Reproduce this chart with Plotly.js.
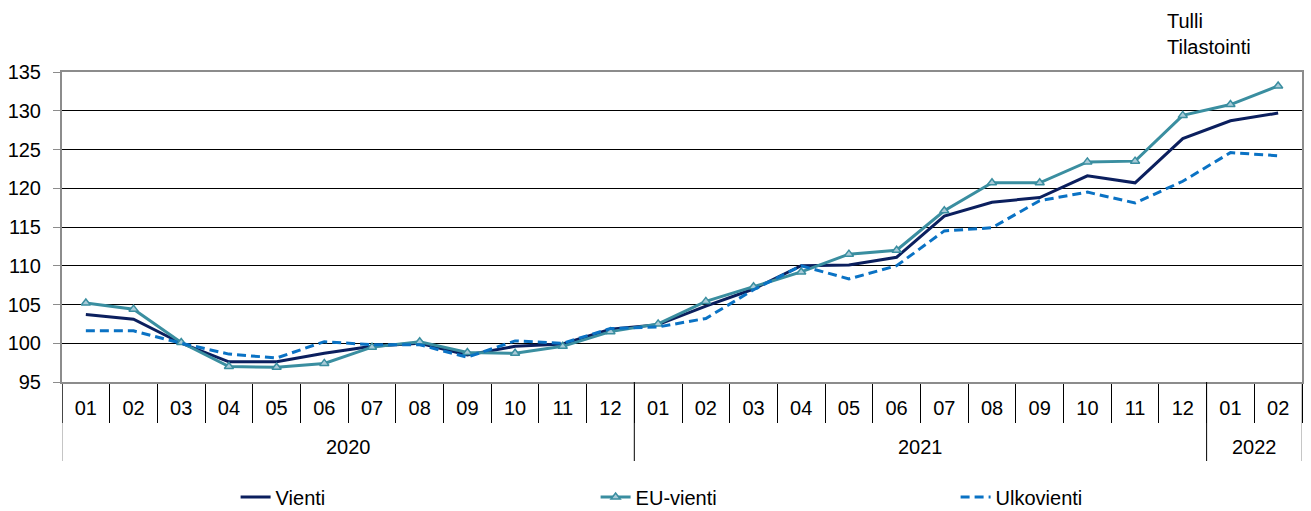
<!DOCTYPE html>
<html>
<head>
<meta charset="utf-8">
<script src="https://cdn.plot.ly/plotly-3.0.1.min.js"></script>
<style>html,body{margin:0;padding:0;background:#fff;}#chart{width:1311px;height:511px;}</style>
</head>
<body>
<div id="chart"></div>
<script>
const years = ['2020','2020','2020','2020','2020','2020','2020','2020','2020','2020','2020','2020',
               '2021','2021','2021','2021','2021','2021','2021','2021','2021','2021','2021','2021',
               '2022','2022'];
const months = ['01','02','03','04','05','06','07','08','09','10','11','12',
                '01','02','03','04','05','06','07','08','09','10','11','12',
                '01','02'];
const vienti = [103.7,103.1,100.0,97.6,97.6,98.7,99.6,100.0,98.5,99.6,99.9,101.8,
                102.4,104.8,107.0,110.0,110.1,111.1,116.4,118.2,118.8,121.6,120.7,126.4,
                128.7,129.7];
const euVienti = [105.2,104.4,100.1,97.0,96.9,97.4,99.5,100.2,98.8,98.7,99.6,101.5,
                  102.5,105.4,107.3,109.2,111.5,112.0,117.1,120.7,120.7,123.4,123.5,129.4,
                  130.8,133.2];
const ulkovienti = [101.6,101.6,100.0,98.6,98.1,100.2,99.8,99.8,98.2,100.3,100.0,101.9,
                    102.1,103.2,106.9,110.0,108.3,110.0,114.5,114.9,118.4,119.5,118.1,120.9,
                    124.6,124.2];
const seriesNames = ['Vienti','EU-vienti','Ulkovienti'];
const sourceText = 'Tulli<br>Tilastointi';

// category index positions on the x axis
const idx = months.map((m, i) => i);

// year groups derived from the years array
const groups = [];
years.forEach((y, i) => {
  if (!groups.length || groups[groups.length - 1].year !== y) groups.push({year: y, start: i, end: i});
  else groups[groups.length - 1].end = i;
});

const font = {family: 'Liberation Sans, Arial, sans-serif', size: 20, color: '#000'};

const traces = [
  {x: idx, y: vienti, name: seriesNames[0], type: 'scatter', mode: 'lines',
   line: {color: '#0b1f5e', width: 3}},
  {x: idx, y: euVienti, name: seriesNames[1], type: 'scatter', mode: 'lines+markers',
   line: {color: '#3a8ea0', width: 3},
   marker: {symbol: 'triangle-up', size: 8, color: '#a9cbd8', line: {color: '#3a8ea0', width: 1.5}}},
  {x: idx, y: ulkovienti, name: seriesNames[2], type: 'scatter', mode: 'lines',
   line: {color: '#0a72c4', width: 3, dash: '9px,5px'}}
];

const plotH = 511 - 72 - 129;
const px = p => p / plotH; // pixel offset to paper fraction

const shapes = [];
const annotations = [];
groups.forEach((g, k) => {
  shapes.push({type: 'line', xref: 'x', yref: 'paper', x0: g.start - 0.5, x1: g.start - 0.5,
               y0: 0, y1: -px(79), line: {color: k === 0 ? '#8c8c8c' : '#000', width: 1}});
  annotations.push({text: g.year, xref: 'x', yref: 'paper', x: (g.start + g.end) / 2, y: -px(65),
                    xanchor: 'center', yanchor: 'middle', showarrow: false, font: font});
});
const last = groups[groups.length - 1];
shapes.push({type: 'line', xref: 'x', yref: 'paper', x0: last.end + 0.5, x1: last.end + 0.5,
             y0: 0, y1: -px(79), line: {color: '#8c8c8c', width: 1}});
annotations.push({text: sourceText, xref: 'paper', yref: 'paper', x: (1165 - 62) / 1240, y: 1 + px(64),
                  xanchor: 'left', yanchor: 'top', showarrow: false, align: 'left', font: font});

const layout = {
  width: 1311, height: 511,
  margin: {l: 62, r: 9, t: 72, b: 129, autoexpand: false},
  paper_bgcolor: '#fff', plot_bgcolor: '#fff',
  font: font,
  showlegend: true,
  legend: {orientation: 'h', x: 0.140, xanchor: 'left', y: -px(115), yanchor: 'middle',
           entrywidth: 315, entrywidthmode: 'pixels', font: font, traceorder: 'normal'},
  xaxis: {
    type: 'linear', range: [-0.5, months.length - 0.5],
    tickmode: 'array', tickvals: idx, ticktext: months,
    showline: true, mirror: true, linecolor: '#8c8c8c', linewidth: 2,
    showgrid: false, zeroline: false,
    ticks: '', ticklabelstandoff: 7,
    minor: {ticks: 'outside', tick0: -0.5, dtick: 1, ticklen: 39, tickcolor: '#000', tickwidth: 1, showgrid: false},
    tickfont: font
  },
  yaxis: {
    range: [95, 135], dtick: 5, tick0: 95,
    showline: true, mirror: true, linecolor: '#8c8c8c', linewidth: 2,
    showgrid: true, gridcolor: '#000', gridwidth: 1, zeroline: false,
    ticks: 'outside', ticklen: 7, tickcolor: '#8c8c8c', tickwidth: 1,
    ticklabelstandoff: 8,
    tickfont: font
  },
  shapes: shapes,
  annotations: annotations
};

Plotly.newPlot('chart', traces, layout, {displayModeBar: false, staticPlot: true});
</script>
</body>
</html>
